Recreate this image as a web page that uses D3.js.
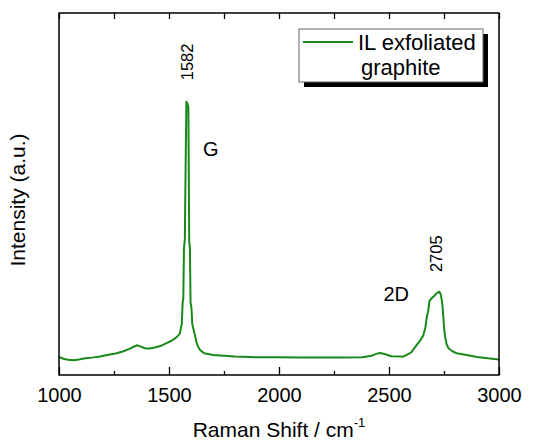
<!DOCTYPE html>
<html>
<head>
<meta charset="utf-8">
<script src="https://cdn.jsdelivr.net/npm/d3@7"></script>
<style>
  body { margin: 0; background: #fff; }
  svg { display: block; font-family: "Liberation Sans", Arial, sans-serif; }
</style>
</head>
<body>
<div id="chart"></div>
<script>
// Raman spectrum (intensity in arbitrary units, 0..100 = plot height)
var shift = [1000, 1020, 1040, 1065, 1090, 1120, 1150, 1186, 1220, 1262, 1290, 1320, 1340, 1353, 1370, 1390, 1410, 1436, 1460, 1489,
  1510, 1527, 1540, 1550, 1554, 1558, 1562, 1565, 1568, 1572, 1576, 1579, 1584, 1588, 1592, 1595, 1598, 1602, 1606, 1610,
  1618, 1626, 1634, 1641, 1660, 1700, 1750, 1800, 1900, 2000, 2100, 2200, 2300, 2380, 2420, 2445, 2460, 2480, 2510, 2565,
  2600, 2626, 2645, 2656, 2665, 2672, 2679, 2684, 2694, 2705, 2717, 2729, 2735, 2740, 2744, 2747, 2750, 2755, 2762, 2770,
  2790, 2808, 2853, 2900, 2950, 3000];
var intensity = [5.0, 4.5, 4.2, 4.1, 4.3, 4.6, 4.8, 5.1, 5.5, 6.0, 6.5, 7.2, 7.8, 8.2, 7.9, 7.4, 7.3, 7.6, 8.0, 8.8,
  9.4, 10.1, 10.8, 11.5, 13.0, 14.0, 20.0, 21.0, 35.0, 37.5, 60.0, 75.5, 75.0, 74.0, 37.0, 35.0, 20.0, 18.5, 14.0, 13.0,
  11.0, 8.8, 7.6, 6.9, 6.0, 5.5, 5.3, 5.1, 4.9, 4.9, 4.8, 4.8, 4.8, 4.9, 5.3, 5.9, 6.1, 5.8, 5.2, 5.1,
  6.2, 8.3, 9.8, 11.0, 13.0, 16.0, 18.0, 20.5, 21.2, 21.8, 22.6, 23.0, 22.3, 20.7, 18.5, 16.1, 13.0, 10.6, 8.5, 7.4,
  6.5, 6.0, 5.5, 5.0, 4.6, 4.3];

var xMajor = [1000, 1500, 2000, 2500, 3000];
var xMinor = [1250, 1750, 2250, 2750];

// peak labels: [shift, intensity, text, rotated]
var peakLabels = [
  [1582, 86.5, "1582", true],
  [2712, 33.5, "2705", true],
  [1655, 60.5, "G", false],
  [2475, 20.5, "2D", false]
];

var seriesName = ["IL exfoliated", "graphite"];

var margin = {top: 13, right: 34, bottom: 65, left: 59};
var W = 533, H = 440;
var width = W - margin.left - margin.right;
var height = H - margin.top - margin.bottom;
var green = "#18891a";

var svg = d3.select("#chart").append("svg")
  .attr("width", W)
  .attr("height", H);

var g = svg.append("g")
  .attr("transform", "translate(" + margin.left + "," + margin.top + ")");

var x = d3.scaleLinear().domain([1000, 3000]).range([0, width]);
var y = d3.scaleLinear().domain([0, 100]).range([height, 0]);

var data = shift.map(function(s, i) { return {s: s, v: intensity[i]}; });

// bottom axis with labels (ticks inward)
var bottom = g.append("g")
  .attr("transform", "translate(0," + height + ")")
  .call(d3.axisBottom(x).tickValues(xMajor).tickSize(-8).tickPadding(13).tickFormat(d3.format("d")));
bottom.selectAll("text").attr("font-size", 20).attr("fill", "#000").style("font-family", "Liberation Sans, Arial, sans-serif");
bottom.select(".domain").remove();
bottom.selectAll("line").attr("stroke", "#000").attr("stroke-width", 1.3);

g.append("g")
  .attr("transform", "translate(0," + height + ")")
  .call(d3.axisBottom(x).tickValues(xMinor).tickSize(-4).tickFormat(""))
  .call(function(a) { a.select(".domain").remove(); a.selectAll("line").attr("stroke", "#000").attr("stroke-width", 1.3); });

// top axis, ticks inward, no labels
g.append("g")
  .call(d3.axisTop(x).tickValues(xMajor.concat(xMinor)).tickSize(-6).tickFormat(""))
  .call(function(a) { a.select(".domain").remove(); a.selectAll("line").attr("stroke", "#000").attr("stroke-width", 1.3); });

// the spectrum
var line = d3.line()
  .x(function(d) { return x(d.s); })
  .y(function(d) { return y(d.v); });

g.append("path")
  .datum(data)
  .attr("fill", "none")
  .attr("stroke", green)
  .attr("stroke-width", 2)
  .attr("stroke-linejoin", "round")
  .attr("d", line);

// frame
g.append("rect")
  .attr("width", width)
  .attr("height", height)
  .attr("fill", "none")
  .attr("stroke", "#000")
  .attr("stroke-width", 1.5);

// peak labels
peakLabels.forEach(function(p) {
  var t = g.append("text")
    .attr("fill", "#000")
    .text(p[2]);
  if (p[3]) {
    t.attr("font-size", 16.5)
      .attr("text-anchor", "middle")
      .attr("transform", "translate(" + (x(p[0]) + 6) + "," + y(p[1]) + ") rotate(-90)");
  } else {
    t.attr("font-size", 20)
      .attr("x", x(p[0]))
      .attr("y", y(p[1]));
  }
});

// legend (with drop shadow)
var lg = svg.append("g").attr("transform", "translate(299,29)");
lg.append("rect").attr("x", 5).attr("y", 5).attr("width", 184).attr("height", 53).attr("fill", "#000");
lg.append("rect").attr("width", 184).attr("height", 53).attr("fill", "#fff").attr("stroke", "#666").attr("stroke-width", 1);
lg.append("line").attr("x1", 4).attr("x2", 54).attr("y1", 13).attr("y2", 13).attr("stroke", green).attr("stroke-width", 2);
lg.append("text").attr("x", 59).attr("y", 21).attr("font-size", 22).text(seriesName[0]);
lg.append("text").attr("x", 62).attr("y", 46).attr("font-size", 22).text(seriesName[1]);

// axis titles
var xt = svg.append("text")
  .attr("x", margin.left + width / 2)
  .attr("y", 437)
  .attr("text-anchor", "middle")
  .attr("font-size", 21);
xt.append("tspan").text("Raman Shift / cm");
xt.append("tspan").attr("font-size", 13).attr("dy", -10).text("-1");

svg.append("text")
  .attr("transform", "translate(25,200) rotate(-90)")
  .attr("text-anchor", "middle")
  .attr("font-size", 21)
  .text("Intensity (a.u.)");
</script>
</body>
</html>
